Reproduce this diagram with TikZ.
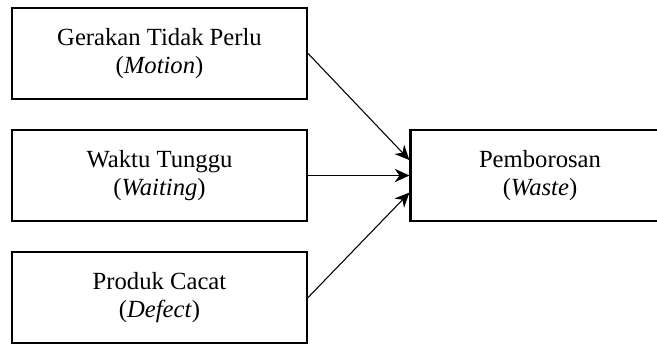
\documentclass[tikz,border=0pt]{standalone}
\usepackage{fontspec}
\setmainfont{Liberation Serif}
\usetikzlibrary{arrows.meta}

\begin{document}
\begin{tikzpicture}[x=0.75pt, y=-0.75pt,
    factor/.style={draw, line width=1.6pt, minimum width=221.25pt, minimum height=68.25pt,
                   align=center, inner sep=0pt, font=\fontsize{18.5}{21}\selectfont},
    link/.style={line width=0.8pt, -{Stealth[length=11pt, width=10pt, inset=3.5pt]}}]
  \useasboundingbox (0,0) rectangle (657,344);

  % the three kinds of waste on the left, the result on the right
  \node[factor] (motion)  at (159.5,53.5)  {Gerakan Tidak Perlu\\(\textit{Motion})};
  \node[factor] (waiting) at (159.5,175.5) {Waktu Tunggu\\(\textit{Waiting})};
  \node[factor] (defect)  at (159.5,297.5) {Produk Cacat\\(\textit{Defect})};
  \node[factor, minimum width=194.25pt] (waste) at (540,175.5) {Pemborosan\\(\textit{Waste})};

  % arrow heads meet the result box a little apart
  \coordinate (wasteup)   at ([yshift=11.6pt]waste.west);
  \coordinate (wastedown) at ([yshift=-12.8pt]waste.west);

  \draw[link] (motion.east)  -- (wasteup);
  \draw[link] (waiting.east) -- (waste.west);
  \draw[link] (defect.east)  -- (wastedown);
\end{tikzpicture}
\end{document}
